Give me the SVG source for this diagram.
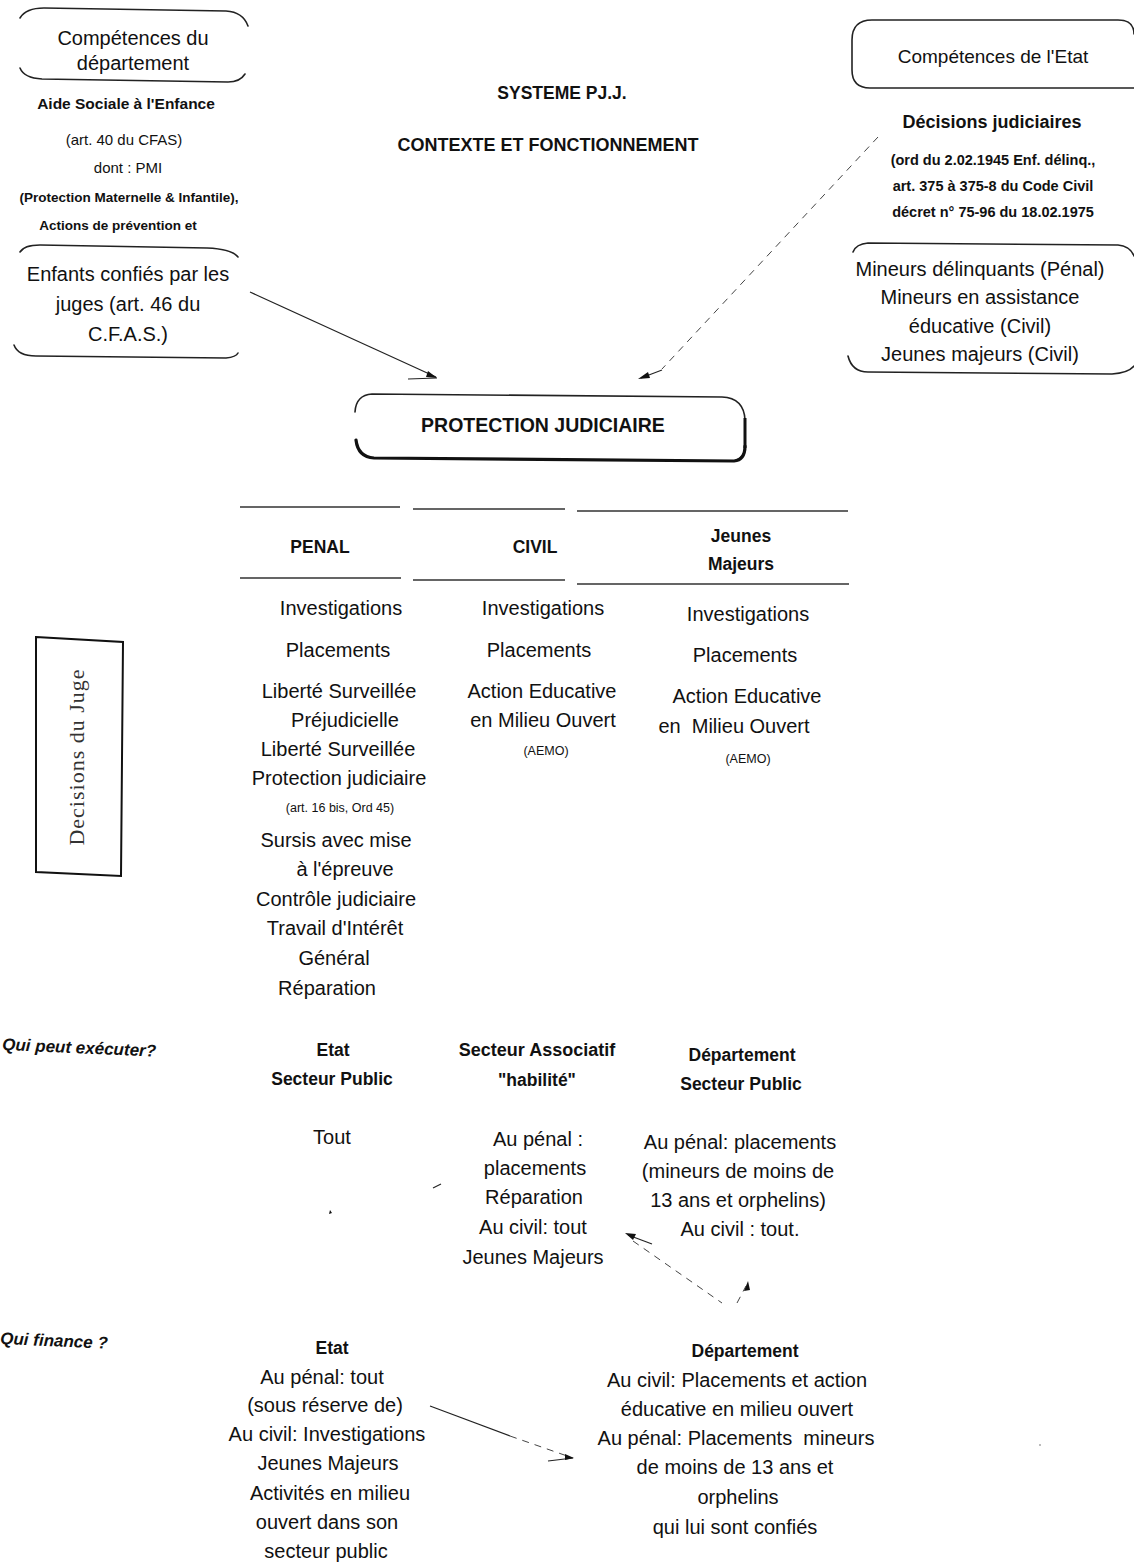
<svg xmlns="http://www.w3.org/2000/svg" width="1134" height="1562" viewBox="0 0 1134 1562">
<defs>
<style>
text{font-family:"Liberation Sans",Arial,sans-serif;fill:#111;text-anchor:middle}
.r{font-size:20px}
.h{font-size:20px}
.b{font-size:17.5px;font-weight:bold}
.bs{font-size:15px;font-weight:bold}
.rs{font-size:15px}
.sm{font-size:12.5px}
.q{font-size:17px;font-weight:bold;font-style:italic;text-anchor:start}
.box{fill:none;stroke:#222;stroke-width:1.6;stroke-linecap:round}
.ln{fill:none;stroke:#333;stroke-width:1.3}
.cn{fill:none;stroke:#222;stroke-width:1.2}
.dash{fill:none;stroke:#444;stroke-width:1;stroke-dasharray:7 6}
.tip{fill:#111;stroke:none}
</style>
</defs>
<rect width="1134" height="1562" fill="#fff"/>

<g id="title">
<text class="b" x="562" y="99">SYSTEME PJ.J.</text>
<text class="b" x="548" y="151" style="font-size:18px">CONTEXTE ET FONCTIONNEMENT</text>
</g>

<g id="node-competences-departement">
<path class="box" d="M20,18 Q26,8 44,8 L226,11 Q243,12 248,26"/>
<path class="box" d="M20,68 Q24,78 42,79 L228,82 Q240,82 245,74"/>
<text class="h" x="133" y="45">Compétences du</text>
<text class="h" x="133" y="70">département</text>
</g>

<g id="node-aide-sociale">
<text class="bs" x="126" y="109" style="font-size:15.5px">Aide Sociale à l'Enfance</text>
<text class="rs" x="124" y="145">(art. 40 du CFAS)</text>
<text class="rs" x="128" y="173">dont :  PMI</text>
<text class="bs" x="129" y="202" style="font-size:13.5px">(Protection Maternelle &amp; Infantile),</text>
<text class="bs" x="118" y="230" style="font-size:13.5px">Actions de prévention et</text>
</g>

<g id="node-enfants-confies">
<path class="box" d="M20,252 Q24,245 40,245 L207,248 Q232,249 238,257"/>
<path class="box" d="M14,345 Q18,356 36,356 L226,358 Q236,357 238,353"/>
<text class="r" x="128" y="281">Enfants confiés par les</text>
<text class="r" x="128" y="311">juges (art. 46 du</text>
<text class="r" x="128" y="341">C.F.A.S.)</text>
</g>

<g id="node-competences-etat">
<path class="box" d="M1134,88 L870,88 Q852,88 852,70 L852,40 Q852,20 872,20 L1118,20 Q1134,20 1134,34"/>
<text class="h" x="993" y="63" style="font-size:19px">Compétences de l'Etat</text>
</g>

<g id="node-decisions-judiciaires">
<text class="b" x="992" y="128" style="font-size:18px">Décisions judiciaires</text>
<text class="bs" x="993" y="165" style="font-size:14.5px">(ord du 2.02.1945 Enf. délinq.,</text>
<text class="bs" x="993" y="191" style="font-size:14.5px">art. 375 à 375-8 du Code Civil</text>
<text class="bs" x="993" y="217" style="font-size:14.5px">décret n° 75-96 du 18.02.1975</text>
</g>

<g id="node-mineurs">
<path class="box" d="M853,252 Q856,244 868,243 L1118,245 Q1130,246 1134,256"/>
<path class="box" d="M848,356 Q852,372 868,372 L1112,374 Q1128,373 1134,366"/>
<text class="h" x="980" y="276">Mineurs délinquants (Pénal)</text>
<text class="h" x="980" y="304">Mineurs en assistance</text>
<text class="h" x="980" y="333">éducative (Civil)</text>
<text class="h" x="980" y="361">Jeunes majeurs (Civil)</text>
</g>

<g id="node-protection-judiciaire">
<path class="box" d="M355,412 Q356,395 372,394 L722,397 Q744,398 745,420 L745,446 Q745,458 736,460"/>
<path d="M356,440 Q358,457 374,458 L734,461 Q745,460 745,446" fill="none" stroke="#111" stroke-width="3.2" stroke-linecap="round"/>
<path d="M745,418 L745,448" stroke="#111" stroke-width="3" fill="none"/>
<text class="b" x="543" y="432" style="font-size:19.5px">PROTECTION JUDICIAIRE</text>
</g>

<g id="node-penal">
<path class="ln" d="M240,507 L400,507 M240,578 L401,578"/>
<text class="b" x="320" y="553">PENAL</text>
</g>
<g id="node-civil">
<path class="ln" d="M413,509 L565,509 M413,580 L565,580"/>
<text class="b" x="535" y="553">CIVIL</text>
</g>
<g id="node-jeunes-majeurs">
<path class="ln" d="M577,511 L848,511 M577,584 L849,584"/>
<text class="b" x="741" y="542">Jeunes</text>
<text class="b" x="741" y="570">Majeurs</text>
</g>

<g id="node-decisions-du-juge">
<path d="M36,637 L123,642 L121,876 L36,872 Z" fill="none" stroke="#111" stroke-width="2"/>
<text transform="translate(84,757) rotate(-90)" style="font-family:'Liberation Serif',serif;font-size:22px;letter-spacing:1px;fill:#333">Decisions du Juge</text>
</g>

<g id="list-penal">
<text class="r" x="341" y="615">Investigations</text>
<text class="r" x="338" y="657">Placements</text>
<text class="r" x="339" y="698">Liberté Surveillée</text>
<text class="r" x="345" y="727">Préjudicielle</text>
<text class="r" x="338" y="756">Liberté Surveillée</text>
<text class="r" x="339" y="785">Protection judiciaire</text>
<text class="sm" x="340" y="812">(art. 16 bis, Ord 45)</text>
<text class="r" x="336" y="847">Sursis avec mise</text>
<text class="r" x="345" y="876">à l'épreuve</text>
<text class="r" x="336" y="906">Contrôle judiciaire</text>
<text class="r" x="335" y="935">Travail d'Intérêt</text>
<text class="r" x="334" y="965">Général</text>
<text class="r" x="327" y="995">Réparation</text>
</g>

<g id="list-civil">
<text class="r" x="543" y="615">Investigations</text>
<text class="r" x="539" y="657">Placements</text>
<text class="r" x="542" y="698">Action Educative</text>
<text class="r" x="543" y="727">en Milieu Ouvert</text>
<text class="sm" x="546" y="755">(AEMO)</text>
</g>

<g id="list-jeunes-majeurs">
<text class="r" x="748" y="621">Investigations</text>
<text class="r" x="745" y="662">Placements</text>
<text class="r" x="747" y="703">Action Educative</text>
<text class="r" x="734" y="733" xml:space="preserve">en  Milieu Ouvert</text>
<text class="sm" x="748" y="763">(AEMO)</text>
</g>

<g id="label-qui-peut-executer">
<text class="q" x="2" y="1050" transform="rotate(2.5 2 1050)">Qui peut exécuter?</text>
</g>

<g id="node-etat-secteur-public">
<text class="b" x="333" y="1056">Etat</text>
<text class="b" x="332" y="1085">Secteur Public</text>
<text class="r" x="332" y="1144">Tout</text>
</g>

<g id="node-secteur-associatif">
<text class="b" x="537" y="1056" style="font-size:18px">Secteur Associatif</text>
<text class="b" x="537" y="1086">"habilité"</text>
<text class="r" x="538" y="1146">Au pénal :</text>
<text class="r" x="535" y="1175">placements</text>
<text class="r" x="534" y="1204">Réparation</text>
<text class="r" x="533" y="1234">Au civil: tout</text>
<text class="r" x="533" y="1264">Jeunes Majeurs</text>
</g>

<g id="node-departement-secteur-public">
<text class="b" x="742" y="1061">Département</text>
<text class="b" x="741" y="1090">Secteur Public</text>
<text class="r" x="740" y="1149">Au pénal: placements</text>
<text class="r" x="738" y="1178">(mineurs de moins de</text>
<text class="r" x="738" y="1207">13 ans et orphelins)</text>
<text class="r" x="740" y="1236">Au civil : tout.</text>
</g>

<g id="label-qui-finance">
<text class="q" x="0" y="1344" transform="rotate(2.5 0 1344)">Qui finance ?</text>
</g>

<g id="node-etat-finance">
<text class="b" x="332" y="1354">Etat</text>
<text class="r" x="322" y="1384">Au pénal: tout</text>
<text class="r" x="325" y="1412">(sous réserve de)</text>
<text class="r" x="327" y="1441">Au civil: Investigations</text>
<text class="r" x="328" y="1470">Jeunes Majeurs</text>
<text class="r" x="330" y="1500">Activités en milieu</text>
<text class="r" x="327" y="1529">ouvert dans son</text>
<text class="r" x="326" y="1558">secteur public</text>
</g>

<g id="node-departement-finance">
<text class="b" x="745" y="1357">Département</text>
<text class="r" x="737" y="1387">Au civil: Placements et action</text>
<text class="r" x="737" y="1416">éducative en milieu ouvert</text>
<text class="r" x="736" y="1445" xml:space="preserve">Au pénal: Placements  mineurs</text>
<text class="r" x="735" y="1474">de moins de 13 ans et</text>
<text class="r" x="738" y="1504">orphelins</text>
<text class="r" x="735" y="1534">qui lui sont confiés</text>
</g>

<g id="connectors">
<path class="cn" d="M250,292 L436,377"/>
<path class="cn" d="M408,379 L437,378" stroke-width="1.6"/>
<path class="tip" d="M437,378 L428,371 L426,377 Z"/>
<path class="dash" d="M878,137 L662,369"/>
<path class="cn" d="M662,370 L641,378" stroke-width="1.8"/>
<path class="tip" d="M638,379 L648,372 L650,378 Z"/>
<path class="cn" d="M652,1244 L628,1235" stroke-width="1.4"/>
<path class="tip" d="M625,1233 L636,1234 L633,1240 Z"/>
<path class="dash" d="M633,1241 L722,1303" stroke-dasharray="4 5"/>
<path class="dash" d="M737,1303 L746,1286" stroke-dasharray="4 4"/>
<path class="tip" d="M748,1281 L744,1291 L750,1290 Z"/>
<path class="cn" d="M430,1406 L510,1436"/>
<path class="dash" d="M510,1436 L570,1457" stroke-dasharray="6 4"/>
<path class="cn" d="M548,1461 L573,1458" stroke-width="1.6"/>
<path class="tip" d="M574,1458 L565,1454 L565,1460 Z"/>
<path class="cn" d="M433,1188 L441,1184" stroke-width="2"/>
<path class="tip" d="M330,1210 L332,1213 L329,1214 Z"/>
<circle cx="1040" cy="1445" r="0.8" fill="#666"/>
</g>
</svg>
